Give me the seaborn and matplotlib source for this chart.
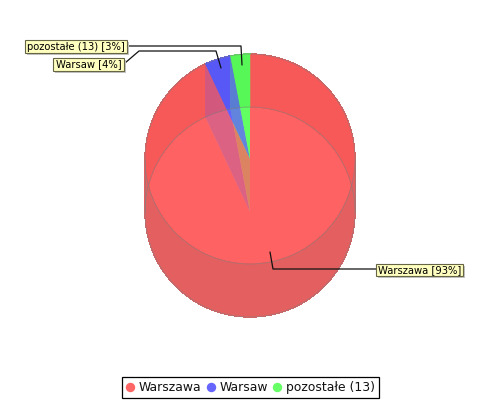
import numpy as np
import matplotlib
matplotlib.use("Agg")
import matplotlib.pyplot as plt
from matplotlib.collections import PolyCollection
from matplotlib.lines import Line2D
from matplotlib.patches import Circle, Polygon, Rectangle
import seaborn as sns

# slices, clockwise from twelve o'clock
categories = ["Warszawa", "Warsaw", "pozostałe (13)"]
shares = [93, 4, 3]
hex_colors = ["#ff5555", "#5555ff", "#55ff55"]
wall_colors = ["#e46060", "#6060e4", "#60e460"]

W, H = 500, 400
CX, TOP_Y, LOW_Y, R = 250, 159, 212, 105
ALPHA = 0.72

sns.set_theme(style="white")
plt.rcParams["font.family"] = ["DejaVu Sans"]
palette = sns.color_palette(hex_colors)


def flip(y):
    # picture rows to axis units
    return H - y


def rim(angle, y):
    a = np.radians(angle)
    return CX + R * np.cos(a), flip(y) + R * np.sin(a)


def draw_face(y, z):
    wedges, _ = ax.pie(shares, colors=palette, startangle=90, counterclock=False,
                       center=(CX, flip(y)), radius=R, wedgeprops=dict(alpha=ALPHA, linewidth=0))
    for w in wedges:
        w.set_zorder(z)
    ax.add_patch(Circle((CX, flip(y)), R, fill=False, edgecolor="#808080", linewidth=0.6,
                        alpha=0.6, zorder=6))


fig = plt.figure(figsize=(5, 4), dpi=100)
ax = fig.add_axes([0, 0, 1, 1])

# slice limits in degrees, matplotlib convention
cuts = 90 - 3.6 * np.cumsum([0] + shares)

# radial side faces of the small slices, these only show behind the upper face
for i in [1, 2]:
    c = (CX, flip(TOP_Y)), rim(cuts[i + 1], TOP_Y), rim(cuts[i + 1], LOW_Y), (CX, flip(LOW_Y))
    ax.add_patch(Polygon(c, closed=True, facecolor=palette[i], edgecolor="none", zorder=1))

ax.add_patch(Circle((CX, flip(LOW_Y)), R, facecolor="white", edgecolor="none", zorder=2))
draw_face(LOW_Y, 3)

# outer wall between the two faces, swept in small quads so the sides stay straight
for i in range(3):
    arc = np.linspace(cuts[i], cuts[i + 1], 300)
    quads = [[rim(a, TOP_Y), rim(b, TOP_Y), rim(b, LOW_Y), rim(a, LOW_Y)]
             for a, b in zip(arc[:-1], arc[1:])]
    ax.add_collection(PolyCollection(quads, facecolors=wall_colors[i], edgecolors=wall_colors[i],
                                     linewidths=0.3, antialiaseds=False, zorder=4))

# grey edge down both sides of the wall
for x in [CX - R, CX + R]:
    ax.plot([x, x], [flip(TOP_Y), flip(LOW_Y)], color="#808080", linewidth=0.6, alpha=0.6, zorder=6)

draw_face(TOP_Y, 5)

ax.set_xlim(0, W)
ax.set_ylim(0, H)
ax.set_aspect("auto")
ax.axis("off")

# callouts: box x0, y0, x1, y1 then the leader line
boxes = [(376, 264, 463, 276), (53, 58, 124, 71), (25, 40, 127, 53)]
leaders = [[(376, 269), (273, 269), (270, 252)],
           [(125, 63), (139, 51), (216, 51), (221, 68)],
           [(128, 46), (241, 46), (242, 65)]]
for name, share, box, path in zip(categories, shares, boxes, leaders):
    xs, ys = zip(*path)
    ax.plot(xs, [flip(v) for v in ys], color="#111111", linewidth=0.9, zorder=7)
    x0, y0, x1, y1 = box
    ax.add_patch(Rectangle((x0 + 2, flip(y1 + 2)), x1 - x0, y1 - y0, facecolor="#c4c4c4",
                           edgecolor="none", zorder=8))
    ax.add_patch(Rectangle((x0, flip(y1)), x1 - x0, y1 - y0, facecolor="#ffffc0",
                           edgecolor="#666644", linewidth=0.8, zorder=9))
    ax.text((x0 + x1) / 2, flip((y0 + y1) / 2), f"{name} [{share}%]", fontsize=7.2,
            color="black", ha="center", va="center", zorder=10)

handles = [Line2D([], [], linestyle="none", marker="o", markersize=6.8, markerfacecolor=c,
                  markeredgecolor="none", alpha=0.9) for c in palette]
leg = ax.legend(handles, categories, loc="center", bbox_to_anchor=(250.5, flip(387.5)),
                bbox_transform=ax.transData, ncol=3, fontsize=8.9, frameon=True, fancybox=False,
                framealpha=1, edgecolor="black", handlelength=0.65, handletextpad=0.35,
                columnspacing=0.45, borderpad=0.32, borderaxespad=0)
leg.get_frame().set_linewidth(0.9)
for t in leg.get_texts():
    t.set_color("#111111")

fig.savefig("out.png", dpi=100, facecolor="white")
